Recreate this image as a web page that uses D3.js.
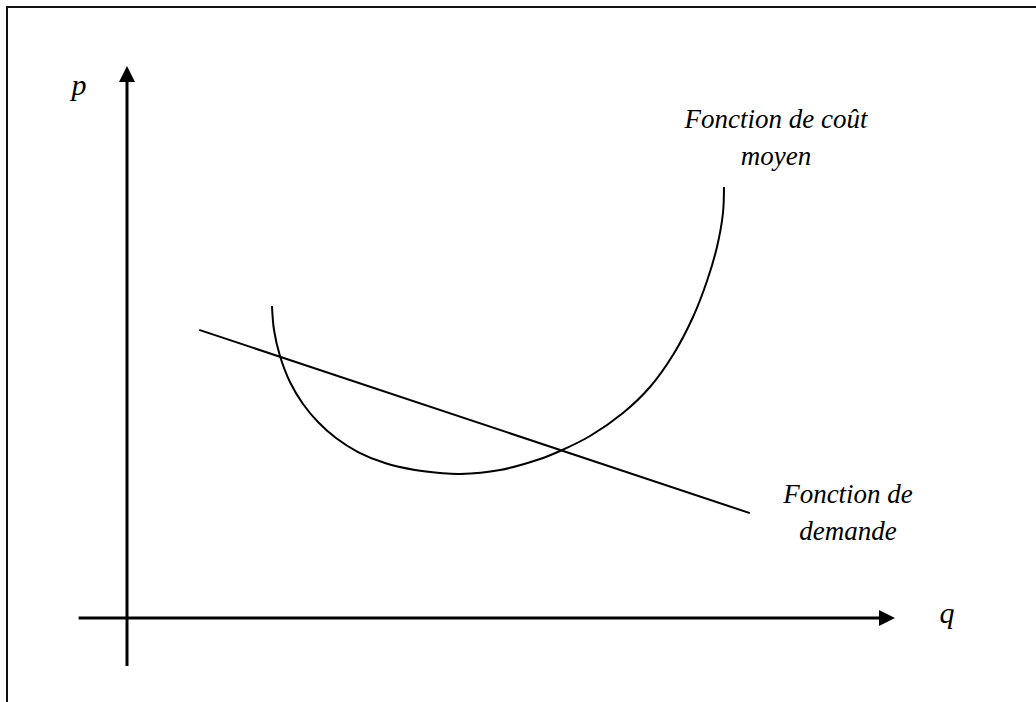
<!DOCTYPE html>
<html>
<head>
<meta charset="utf-8">
<script src="https://cdn.jsdelivr.net/npm/d3@7"></script>
<style>
  html, body { margin: 0; padding: 0; background: #fff; }
  svg { display: block; }
  .lbl { font-family: "Liberation Serif", "Times New Roman", "DejaVu Serif", serif; font-style: italic; fill: #000; }
</style>
</head>
<body>
<div id="app"></div>
<script>
// average cost curve (q, p)
const costQ = [18.88, 19.14, 19.92, 21.22, 22.92, 24.87, 27.21, 30.08, 33.59, 37.50, 40.76, 43.36, 48.57, 53.78, 56.38, 60.29, 64.58, 68.10, 71.09, 73.70, 75.52, 76.82, 77.60, 77.73]
const costP = [56.52, 52.17, 47.46, 42.75, 38.77, 35.51, 32.61, 30.07, 28.08, 26.81, 26.27, 26.09, 26.81, 28.80, 30.25, 32.97, 37.14, 41.85, 47.64, 54.53, 61.05, 67.21, 73.37, 78.08]

// demand line end points
const demandQ = [9.4, 81.1]
const demandP = [52.2, 19.0]

// axis extents (data units)
const qAxis = [-6.3, 100]
const pAxis = [-8.7, 100]

const w = 1036
const h = 702

const x = d3.scaleLinear().domain([0, 100]).range([127, 895])
const y = d3.scaleLinear().domain([0, 100]).range([618, 66])

const svg = d3.select('#app')
  .append('svg')
  .attr('width', w)
  .attr('height', h)

// frame
svg.append('rect')
  .attr('x', 7)
  .attr('y', 7)
  .attr('width', 1200)
  .attr('height', 1200)
  .attr('fill', 'none')
  .attr('stroke', '#111')
  .attr('stroke-width', 2)

const arrow = 16

// y axis
svg.append('line')
  .attr('x1', x(0)).attr('x2', x(0))
  .attr('y1', y(pAxis[0])).attr('y2', y(pAxis[1]) + arrow - 2)
  .attr('stroke', '#000').attr('stroke-width', 3)
svg.append('path')
  .attr('d', `M${x(0)},${y(pAxis[1])} L${x(0) - arrow / 2},${y(pAxis[1]) + arrow} L${x(0) + arrow / 2},${y(pAxis[1]) + arrow} Z`)
  .attr('fill', '#000')

// x axis
svg.append('line')
  .attr('x1', x(qAxis[0])).attr('x2', x(qAxis[1]) - arrow + 2)
  .attr('y1', y(0)).attr('y2', y(0))
  .attr('stroke', '#000').attr('stroke-width', 3)
svg.append('path')
  .attr('d', `M${x(qAxis[1])},${y(0)} L${x(qAxis[1]) - arrow},${y(0) - arrow / 2} L${x(qAxis[1]) - arrow},${y(0) + arrow / 2} Z`)
  .attr('fill', '#000')

const line = d3.line()
  .x(d => x(d[0]))
  .y(d => y(d[1]))

// demand
svg.append('path')
  .datum(demandQ.map((q, i) => [q, demandP[i]]))
  .attr('d', line)
  .attr('fill', 'none')
  .attr('stroke', '#000')
  .attr('stroke-width', 2)

// average cost
svg.append('path')
  .datum(costQ.map((q, i) => [q, costP[i]]))
  .attr('d', line.curve(d3.curveCatmullRom.alpha(0.5)))
  .attr('fill', 'none')
  .attr('stroke', '#000')
  .attr('stroke-width', 2)

// labels
const size = 27
svg.append('text').attr('class', 'lbl').attr('x', 79).attr('y', 95)
  .attr('text-anchor', 'middle').style('font-size', '30px').text('p')
svg.append('text').attr('class', 'lbl').attr('x', 947).attr('y', 623)
  .attr('text-anchor', 'middle').style('font-size', '30px').text('q')

svg.append('text').attr('class', 'lbl').attr('x', 776).attr('y', 128)
  .attr('text-anchor', 'middle').style('font-size', size + 'px').text('Fonction de coût')
svg.append('text').attr('class', 'lbl').attr('x', 776).attr('y', 165)
  .attr('text-anchor', 'middle').style('font-size', size + 'px').text('moyen')

svg.append('text').attr('class', 'lbl').attr('x', 848).attr('y', 503)
  .attr('text-anchor', 'middle').style('font-size', size + 'px').text('Fonction de')
svg.append('text').attr('class', 'lbl').attr('x', 848).attr('y', 540)
  .attr('text-anchor', 'middle').style('font-size', size + 'px').text('demande')
</script>
</body>
</html>
